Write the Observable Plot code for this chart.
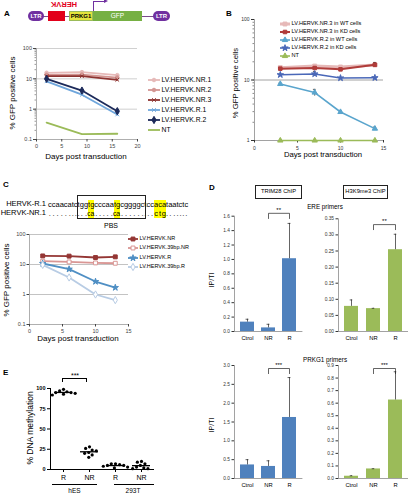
<!DOCTYPE html>
<html><head><meta charset="utf-8">
<script src="https://cdn.jsdelivr.net/npm/d3@7"></script>
<script src="https://cdn.jsdelivr.net/npm/@observablehq/plot@0.6"></script>
<style>
html,body{margin:0;padding:0;background:#fff;overflow:hidden;}
#root{position:relative;width:409px;height:496px;font-family:"Liberation Sans",Arial,sans-serif;color:#000;}
.t{position:absolute;white-space:nowrap;line-height:1;}
.abs{position:absolute;}
</style></head><body><div id="root"></div>
<script>
const aDays = [2, 9, 16];
const aNames = ["LV.HERVK.NR.1","LV.HERVK.NR.2","LV.HERVK.NR.3","LV.HERVK.R.1","LV.HERVK.R.2","NT"];
const aNR1 = [15.8, 16.6, 13.2];
const aNR2 = [13.5, 13.8, 11];
const aNR3 = [12.2, 12.2, 9.3];
const aR1 = [8.3, 3.0, 0.67];
const aR2 = [10, 4.1, 0.86];
const aNT = [0.36, 0.15, 0.155];
const aXTicks = [0, 5, 10, 15, 20];
const aYTicks = [0.1, 1, 10, 100];
const bDays = [3, 7, 10, 14];
const bNames = ["LV.HERVK.NR.3 in WT cells","LV.HERVK.NR.3 in KD cells","LV.HERVK.R.2 in WT cells","LV.HERVK.R.2 in KD cells","NT"];
const bNR3wt = [16, 17, 16.4, 17.7];
const bNR3kd = [15.4, 15.8, 15, 17.9];
const bR2wt = [8.6, 6.2, 2.96, 1.57];
const bR2kd = [12.2, 12.6, 10.8, 10.9];
const bNT = [1, 1, 1, 1];
const bNR3wtErr = [0.6, 1.0, 0.7, 1.4];
const bNR3kdErr = [0.4, 0.6, 0.4, 1.6];
const bR2wtErr = [0.3, 0.8, 0.15, 0.1];
const bR2kdErr = [0.3, 1.2, 0.2, 0.2];
const bXTicks = [0, 5, 10, 15];
const bYTicks = [1, 10, 100];
const seqLabels = ["HERVK-R.1", "HERVK-NR.1"];
const seqR = "ccaacatctggtgcccaatgcggggctccacataatctc";
const seqMutPos = [11, 12, 18, 19, 29, 30, 31];
const seqMutNR = ["c", "a", "c", "a", "c", "t", "g"];
const seqBoxLabel = "PBS";
const cDays = [2, 6, 10, 13];
const cNames = ["LV.HERVK.NR","LV.HERVK.39bp.NR","LV.HERVK.R","LV.HERVK.39bp.R"];
const cNR = [19.3, 19, 17.1, 18];
const c39NR = [12.9, 12.2, 11.3, 11];
const cR = [10.8, 7, 2.7, 1.7];
const c39R = [9.7, 3.7, 1.0, 0.65];
const cXTicks = [0, 5, 10, 15];
const cYTicks = [0.1, 1, 10, 100];
const dCats = ["Ctrol", "NR", "R"];
const dTrimEre = [0.13, 0.05, 1.01];
const dTrimEreErr = [0.17, 0.10, 1.50];
const dH3Ere = [0.078, 0.071, 0.254];
const dH3EreErr = [0.098, 0.072, 0.302];
const dTrimPrkg = [0.36, 0.32, 1.62];
const dTrimPrkgErr = [0.50, 0.47, 2.68];
const dH3Prkg = [0.018, 0.076, 0.625];
const dH3PrkgErr = [0.022, 0.078, 0.85];
const dTrimEreSig = ["NR", "R", 1.64, "**"];
const dH3EreSig = ["NR", "R", 0.332, "**"];
const dTrimPrkgSig = ["NR", "R", 2.92, "***"];
const dH3PrkgSig = ["NR", "R", 0.876, "***"];
const dTrimEreTicks = [0, 0.2, 0.4, 0.6, 0.8, 1.0, 1.2, 1.4, 1.6];
const dH3EreTicks = [0, 0.05, 0.10, 0.15, 0.20, 0.25, 0.30, 0.35];
const dTrimPrkgTicks = [0, 0.5, 1.0, 1.5, 2.0, 2.5, 3.0];
const dH3PrkgTicks = [0, 0.1, 0.2, 0.3, 0.4, 0.5, 0.6, 0.7, 0.8, 0.9];
const eGroups = ["R|hES", "NR|hES", "R|293T", "NR|293T"];
const eRhES = [99, 97, 96, 95, 95, 94, 93, 92];
const eNRhES = [28, 26, 24, 23, 21, 20, 18, 15];
const eR293 = [7, 7, 6, 5, 5, 4, 3, 2];
const eNR293 = [10, 9, 7, 5, 3, 2, 1, 1];
const eYTicks = [0, 25, 50, 75, 100];

const root = document.getElementById("root");
const FONT = '"Liberation Sans", Arial, sans-serif';
function put(el, left, top) { el.style.position = "absolute"; el.style.left = left + "px"; el.style.top = top + "px"; el.style.overflow = "visible"; root.appendChild(el); return el; }
function text(s, x, y, o = {}) {
  const d = document.createElement("div"); d.className = "t"; d.textContent = s;
  d.style.left = x + "px"; d.style.top = y + "px"; d.style.fontSize = (o.size || 8) + "px";
  if (o.bold) d.style.fontWeight = "bold";
  d.style.color = o.color || "#000";
  const ax = o.anchor === "start" ? "0" : o.anchor === "end" ? "-100%" : "-50%";
  d.style.transform = `translate(${ax},-50%)` + (o.rotate ? ` rotate(${o.rotate}deg)` : "");
  root.appendChild(d); return d;
}
function box(x, y, w, h, css) { const d = document.createElement("div"); d.className = "abs"; Object.assign(d.style, {left: x + "px", top: y + "px", width: w + "px", height: h + "px", boxSizing: "border-box"}, css); root.appendChild(d); return d; }
const style = (fs) => ({fontFamily: FONT, fontSize: fs + "px", background: "transparent", overflow: "visible", color: "#000"});
const symMap = {circle: d3.symbolCircle, square: d3.symbolSquare, diamond: d3.symbolDiamond, triangle: d3.symbolTriangle, star: d3.symbolStar, times: d3.symbolTimes, asterisk: d3.symbolAsterisk, cross: d3.symbolCross};
function swatch(st, w) {
  const ns = "http://www.w3.org/2000/svg";
  const s = document.createElementNS(ns, "svg"); s.setAttribute("width", w); s.setAttribute("height", 8);
  const l = document.createElementNS(ns, "line");
  l.setAttribute("x1", 0); l.setAttribute("x2", w); l.setAttribute("y1", 4); l.setAttribute("y2", 4);
  l.setAttribute("stroke", st.color); l.setAttribute("stroke-width", st.w); s.appendChild(l);
  if (st.symbol) {
    const p = document.createElementNS(ns, "path"); const r = st.r || 2;
    p.setAttribute("d", d3.symbol(symMap[st.symbol], r * r * Math.PI)());
    p.setAttribute("transform", `translate(${w / 2},4)`);
    p.setAttribute("fill", st.fill || st.color); p.setAttribute("stroke", st.color); p.setAttribute("stroke-width", st.sw || 1);
    s.appendChild(p);
  }
  return s;
}
function legend(names, styles, x, y0, dy, fs, sw) {
  names.forEach((n, i) => {
    const s = swatch(styles[i], sw); put(s, x, y0 + i * dy - 4);
    text(n, x + sw + 1.5, y0 + i * dy, {size: fs, anchor: "start"});
  });
}
function seriesMarks(days, vals, st, errs) {
  const rows = days.map((d, i) => ({day: d, v: vals[i], e: errs ? errs[i] : 0}));
  const m = [];
  if (errs) {
    m.push(Plot.ruleX(rows, {x: "day", y1: d => d.v - d.e, y2: d => d.v + d.e, stroke: "#222", strokeWidth: 0.7}));
    m.push(Plot.ruleY(rows, {y: d => d.v + d.e, x1: d => d.day - 0.15, x2: d => d.day + 0.15, stroke: "#222", strokeWidth: 0.7}));
  }
  m.push(Plot.line(rows, {x: "day", y: "v", stroke: st.color, strokeWidth: st.w}));
  if (st.symbol) m.push(Plot.dot(rows, {x: "day", y: "v", symbol: st.symbol, r: st.r || 2, stroke: st.color, fill: st.fill || st.color, strokeWidth: st.sw || 1}));
  return m;
}
const minorLog = d3.scaleLog().domain([0.1, 100]).ticks();

text("A", 4, 14, {size: 8, bold: true, anchor: "start"});
text("B", 226, 14, {size: 8, bold: true, anchor: "start"});
text("C", 3, 185, {size: 8, bold: true, anchor: "start"});
text("D", 209, 188, {size: 8, bold: true, anchor: "start"});
text("E", 3, 373, {size: 8, bold: true, anchor: "start"});

box(35, 15.5, 125, 1, {background: "#7a4a8a"});
box(28, 11, 16, 10, {background: "#7030a0", borderRadius: "5px"});
box(153, 11, 17, 10, {background: "#7030a0", borderRadius: "5px"});
text("LTR", 36, 16.3, {size: 6, color: "#fff", bold: true});
text("LTR", 161.5, 16.3, {size: 6, color: "#fff", bold: true});
box(48, 11, 17, 10, {background: "#e2001a"});
text("HERVK", 64, 4, {size: 7.5, bold: true, color: "#e2001a", rotate: 180});
box(69, 11, 24, 10, {background: "#e4e43c", border: "0.5px solid #9bbb59"});
text("PRKG1", 81, 16.3, {size: 6, bold: true});
box(93, 11, 49, 10, {background: "#76b043"});
text("GFP", 117.5, 16.3, {size: 6.5, color: "#fff"});
box(92.5, 1, 1, 10, {background: "#7030a0"});
box(92.5, 1, 12, 1, {background: "#7030a0"});
box(104, -1, 0, 0, {borderTop: "2.5px solid transparent", borderBottom: "2.5px solid transparent", borderLeft: "4px solid #7030a0"});

const aStyles = [
  {color: "#e6b9b8", symbol: "circle", w: 1.8, r: 1.8},
  {color: "#d39592", symbol: "circle", w: 1.8, r: 1.8},
  {color: "#8e3330", symbol: "times", w: 1.8, r: 1.8},
  {color: "#6fa6dc", symbol: "times", w: 1.8, r: 1.8},
  {color: "#1c2a5a", symbol: "diamond", w: 1.8, r: 2.2},
  {color: "#9bbb59", symbol: null, w: 1.8}
];
const aVals = [aNR1, aNR2, aNR3, aR1, aR2, aNT];
put(Plot.plot({
  width: 150, height: 125, marginLeft: 36, marginRight: 13, marginTop: 8, marginBottom: 26,
  style: style(5.5),
  x: {domain: [0, 20]}, y: {type: "log", domain: [0.1, 100]},
  marks: [
    Plot.ruleY([1, 10, 100], {stroke: "#c4c4c4", strokeWidth: 0.8}),
    Plot.ruleX([0], {stroke: "#9a9a9a", strokeWidth: 0.8}),
    Plot.ruleY([0.1], {stroke: "#9a9a9a", strokeWidth: 0.8}),
    Plot.axisY(minorLog, {tickSize: 1.5, tickFormat: () => "", label: null, color: "#9a9a9a"}),
    Plot.axisY(aYTicks, {tickSize: 3, tickPadding: 1.5, tickFormat: d => String(d), label: null, color: "#444"}),
    Plot.axisX(aXTicks, {tickSize: 2.5, tickPadding: 2, label: null, color: "#444"}),
    ...aVals.flatMap((v, i) => seriesMarks(aDays, v, aStyles[i]))
  ]
}), 0, 40);
text("Days post transduction", 86, 157, {size: 8});
text("% GFP positive cells", 13, 93, {size: 8, rotate: -90});
legend(aNames, aStyles, 148, 80, 10, 6.8, 12);

const bStyles = [
  {color: "#e6b9b8", symbol: "square", w: 3, r: 2.2},
  {color: "#b03c3a", symbol: "square", w: 2, r: 2},
  {color: "#5aa5cd", symbol: "triangle", w: 1.6, r: 2},
  {color: "#4a68b8", symbol: "star", w: 1.6, r: 2},
  {color: "#9bbb59", symbol: "triangle", w: 1.6, r: 2}
];
const bVals = [bNR3wt, bNR3kd, bR2wt, bR2kd, bNT];
const bErrs = [bNR3wtErr, bNR3kdErr, bR2wtErr, bR2kdErr, null];
put(Plot.plot({
  width: 190, height: 150, marginLeft: 39, marginRight: 22, marginTop: 9, marginBottom: 20,
  style: style(5),
  x: {domain: [0, 15]}, y: {type: "log", domain: [1, 100]},
  marks: [
    Plot.ruleY([10], {stroke: "#8a8a8a", strokeWidth: 0.8}),
    Plot.ruleX([0], {stroke: "#8a8a8a", strokeWidth: 0.8}),
    Plot.ruleY([1], {stroke: "#8a8a8a", strokeWidth: 0.8}),
    Plot.axisY(minorLog.filter(d => d >= 1), {tickSize: 1.5, tickFormat: () => "", label: null, color: "#8a8a8a"}),
    Plot.axisY(bYTicks, {tickSize: 3, tickPadding: 2, tickFormat: d => String(d), label: null, color: "#333"}),
    Plot.axisX(bXTicks, {tickSize: 2.5, tickPadding: 3, label: null, color: "#333"}),
    ...bVals.flatMap((v, i) => seriesMarks(bDays, v, bStyles[i], bErrs[i]))
  ]
}), 215, 10);
text("Days post transduction", 323, 155, {size: 7.7});
text("% GFP positive cells", 236, 83, {size: 7.7, rotate: -90});
legend(bNames, bStyles, 280, 24, 8, 5.6, 10);

text(seqLabels[0], 46, 204, {size: 7.5, anchor: "end"});
text(seqLabels[1], 46, 213, {size: 7.5, anchor: "end"});
function seqRow(y, second) {
  const row = document.createElement("div"); row.className = "t";
  Object.assign(row.style, {left: "48px", top: (y - 4.5) + "px", fontSize: "7.5px", lineHeight: "9px", height: "9px"});
  [...seqR].forEach((ch, i) => {
    const sp = document.createElement("span");
    sp.style.display = "inline-block"; sp.style.position = "relative"; sp.style.height = "9px";
    const mi = seqMutPos.indexOf(i);
    if (mi >= 0) sp.style.background = "#ffff00";
    sp.textContent = ch;
    if (second) {
      sp.style.color = "transparent";
      const o = document.createElement("span");
      Object.assign(o.style, {position: "absolute", left: "50%", top: "0", transform: "translateX(-50%)", color: "#000"});
      o.textContent = mi >= 0 ? seqMutNR[mi] : ".";
      sp.appendChild(o);
    }
    row.appendChild(sp);
  });
  root.appendChild(row);
}
seqRow(204, false);
seqRow(213, true);
box(77, 195, 69, 24, {border: "1px solid #222"});
text(seqBoxLabel, 111, 225, {size: 7});

const cStyles = [
  {color: "#943634", symbol: "square", w: 1.8, r: 2.2},
  {color: "#d99694", symbol: "square", w: 1.8, r: 2.2, fill: "#fff"},
  {color: "#4f8fc4", symbol: "star", w: 1.8, r: 2},
  {color: "#b8cce4", symbol: "diamond", w: 1.8, r: 2.2, fill: "#fff"}
];
const cVals = [cNR, c39NR, cR, c39R];
put(Plot.plot({
  width: 140, height: 115, marginLeft: 29, marginRight: 12, marginTop: 9, marginBottom: 16,
  style: style(5.5),
  x: {domain: [0, 15]}, y: {type: "log", domain: [0.1, 100]},
  marks: [
    Plot.ruleY([1, 10, 100], {stroke: "#b4b4b4", strokeWidth: 0.8}),
    Plot.ruleX([0], {stroke: "#9a9a9a", strokeWidth: 0.8}),
    Plot.ruleY([0.1], {stroke: "#9a9a9a", strokeWidth: 0.8}),
    Plot.axisY(cYTicks, {tickSize: 2.5, tickPadding: 1.5, tickFormat: d => String(d), label: null, color: "#444"}),
    Plot.axisX(cXTicks, {tickSize: 2.5, tickPadding: 2, label: null, color: "#444"}),
    ...cVals.flatMap((v, i) => seriesMarks(cDays, v, cStyles[i]))
  ]
}), 0, 225);
text("Days post transduction", 78, 339, {size: 8});
text("% GFP positive cells", 7, 280, {size: 8, rotate: -90});
legend(cNames, cStyles, 128, 239, 9.3, 5.5, 10);

function barChart(vals, errs, ticks, fmt, sig, color, w, h, mt, mb, ml, mr, left, top) {
  const rows = dCats.map((c, i) => ({cat: c, v: vals[i], hi: errs[i]}));
  const W = w - ml - mr, step = W / 3.15;
  const [from, to, level, lab] = sig;
  const span = ticks[ticks.length - 1];
  const drop = level - span * 0.045;
  const br = [{x: from, y: drop}, {x: from, y: level}, {x: to, y: level}, {x: to, y: drop}];
  return put(Plot.plot({
    width: w, height: h, marginLeft: ml, marginRight: mr, marginTop: mt, marginBottom: mb,
    style: style(4.8),
    x: {domain: dCats, paddingInner: 0.35, paddingOuter: 0.25},
    y: {domain: [0, span]},
    marks: [
      Plot.frame({anchor: "left", stroke: "#8a8a8a", strokeWidth: 0.8}),
      Plot.axisY(ticks, {tickSize: 2.5, tickPadding: 2, tickFormat: fmt, label: null, color: "#333"}),
      Plot.axisX({tickSize: 0, tickPadding: 4, label: null, fontSize: 5.8}),
      Plot.barY(rows, {x: "cat", y: "v", fill: color}),
      Plot.ruleY([0], {stroke: "#8a8a8a", strokeWidth: 0.8}),
      Plot.ruleX(rows, {x: "cat", y1: "v", y2: "hi", stroke: "#222", strokeWidth: 0.7}),
      Plot.tickY(rows, {x: "cat", y: "hi", stroke: "#222", strokeWidth: 0.7, insetLeft: step * 0.65 / 2 - 1.5, insetRight: step * 0.65 / 2 - 1.5}),
      Plot.line(br, {x: "x", y: "y", stroke: "#222", strokeWidth: 0.7}),
      Plot.text([lab], {x: () => to, y: () => level, text: d => d, dx: -step / 2, dy: -3.5, fontSize: 6})
    ]
  }), left, top);
}
const f1 = d => d.toFixed(1), f2 = d => d.toFixed(2);
barChart(dTrimEre, dTrimEreErr, dTrimEreTicks, f1, dTrimEreSig, "#4f81bd", 105, 145, 15.7, 14, 29, 7.6, 205, 200);
barChart(dH3Ere, dH3EreErr, dH3EreTicks, f2, dH3EreSig, "#9bbb59", 99, 145, 18.3, 14, 28, 1, 310, 200);
barChart(dTrimPrkg, dTrimPrkgErr, dTrimPrkgTicks, f1, dTrimPrkgSig, "#4f81bd", 105, 146, 15, 18, 29, 7.6, 205, 350);
barChart(dH3Prkg, dH3PrkgErr, dH3PrkgTicks, f1, dH3PrkgSig, "#9bbb59", 99, 146, 15, 18, 28, 1, 310, 350);
box(255, 185, 47, 14, {border: "1px solid #222"});
text("TRIM28 ChIP", 278.5, 192.3, {size: 5.8});
box(343, 185, 45, 14, {border: "1px solid #222"});
text("H3K9me3 ChIP", 365.5, 192.3, {size: 5.8});
text("ERE primers", 325, 207, {size: 6.3});
text("PRKG1 primers", 325, 360, {size: 6.3});
text("IP/TI", 211, 280, {size: 7, rotate: -90});
text("IP/TI", 211, 425, {size: 7, rotate: -90});

const eVals = [eRhES, eNRhES, eR293, eNR293];
const ePts = eGroups.flatMap((g, i) => eVals[i].map(v => ({g, v})));
const eMeans = eGroups.map((g, i) => ({g, m: d3.mean(eVals[i])}));
put(Plot.plot({
  width: 165, height: 126, marginLeft: 49, marginRight: 10, marginTop: 18, marginBottom: 27,
  style: style(5.5),
  fx: {domain: eGroups, padding: 0, axis: null},
  y: {domain: [0, 100]},
  marks: [
    Plot.frame({anchor: "left", facetAnchor: "left", stroke: "#000", strokeWidth: 1}),
    Plot.ruleY([0], {stroke: "#000", strokeWidth: 1}),
    Plot.axisY(eYTicks, {tickSize: 3, tickPadding: 2, label: null, fontWeight: "bold"}),
    Plot.axisFx({anchor: "bottom", tickSize: 3, tickPadding: 3, tickFormat: d => d.split("|")[0], fontSize: 7, label: null}),
    Plot.tickY(eMeans, {fx: "g", y: "m", stroke: "#000", strokeWidth: 1.3, insetLeft: 4, insetRight: 4}),
    Plot.dot(ePts, Plot.dodgeX("middle", {fx: "g", y: "v", r: 1.6, fill: "#000", padding: 0}))
  ]
}), 0, 370);
text("% DNA methylation", 30, 428, {size: 8.5, rotate: -90});
box(62, 378, 25, 4, {borderTop: "1px solid #000", borderLeft: "1px solid #000", borderRight: "1px solid #000"});
text("***", 75, 375, {size: 7});
box(52, 484, 45, 1, {background: "#000"});
text("hES", 74.5, 490.5, {size: 6.5, color: "#000"});
box(114, 484, 40, 1, {background: "#000"});
text("293T", 133, 490.5, {size: 6.5, color: "#000"});
</script></body></html>
